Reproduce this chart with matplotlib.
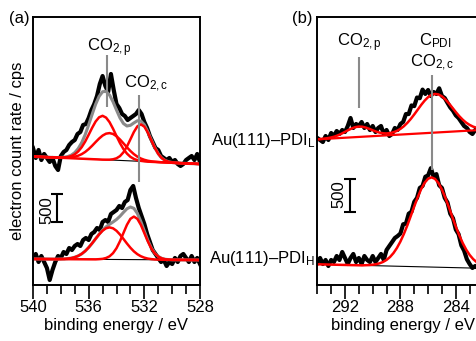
import numpy as np
import matplotlib.pyplot as plt
from matplotlib.ticker import MultipleLocator

plt.rcParams['font.family'] = 'Liberation Sans'
plt.rcParams['font.size'] = 12
plt.rcParams['mathtext.fontset'] = 'custom'
plt.rcParams['mathtext.rm'] = 'Liberation Sans'
plt.rcParams['mathtext.it'] = 'Liberation Sans:italic'

# ---------------- panel (a): O 1s ----------------
# measured spectra, 0.2 eV steps from 540 to 528 eV (cps)
energy_a = np.linspace(540, 528, 61)
o1s_low = [2500, 2318, 2464, 2281, 2391, 2318, 2245, 2318, 2172, 2099,
           2354, 2427, 2464, 2555, 2610, 2646, 2756, 2792, 2920, 2938,
           3048, 3194, 3303, 3449, 3668, 3814, 3632, 3522, 3851, 3559,
           3303, 3230, 3121, 3084, 3011, 3048, 3084, 3121, 3194, 3121,
           2975, 2865, 2719, 2610, 2500, 2464, 2354, 2318, 2281, 2318,
           2245, 2281, 2208, 2172, 2208, 2281, 2318, 2354, 2281, 2391,
           2245]
o1s_high = [493, 566, 420, 529, 420, 310, 91, 274, 420, 529,
            493, 602, 566, 675, 639, 712, 748, 712, 821, 858,
            821, 931, 967, 1040, 1004, 1150, 1186, 1150, 1296, 1332,
            1369, 1442, 1405, 1515, 1551, 1734, 1807, 1588, 1405, 1259,
            1113, 931, 785, 639, 566, 493, 420, 456, 347, 420,
            383, 493, 420, 529, 566, 493, 420, 529, 420, 493,
            383]

# fit components, 0.25 eV steps from 540 to 528 eV (cps above background)
fit_energy_a = np.linspace(540, 528, 49)
bg_low_a = (2345, 2208)
bg_high_a = (475, 456)
p1_low = [0] * 8 + [4, 9, 19, 39, 74, 130, 210, 316, 442, 573, 690, 770, 800,
                    770, 690, 573, 442, 316, 210, 130, 74, 39, 19, 9, 4] + [0] * 16
p2_low = [0] * 8 + [2, 5, 9, 17, 31, 52, 83, 126, 181, 245, 315, 382, 439, 477, 490,
                    477, 439, 382, 315, 245, 181, 126, 83, 52, 31, 17, 9, 5, 2] + [0] * 12
c_low = [0] * 21 + [2, 5, 15, 36, 78, 151, 259, 394, 531, 636, 675,
                    636, 531, 394, 259, 151, 78, 36, 15, 5, 2] + [0] * 7
p_high = [0] * 8 + [3, 5, 11, 20, 37, 62, 99, 150, 216, 293, 376, 456, 524, 569, 585,
                    569, 524, 456, 376, 293, 216, 150, 99, 62, 37, 20, 11, 5, 3] + [0] * 12
c_high = [0] * 19 + [4, 10, 26, 57, 115, 206, 334, 485, 634, 744, 785,
                     744, 634, 485, 334, 206, 115, 57, 26, 10, 4] + [0] * 9
co2p_a = 534.68
co2c_a = 532.35

# ---------------- panel (b): C 1s ----------------
energy_b = np.linspace(294, 282.4, 59)
c1s_low = [2227, 2197, 2166, 2257, 2197, 2303, 2257, 2333, 2288, 2348,
           2318, 2409, 2530, 2379, 2439, 2409, 2469, 2379, 2439, 2348,
           2409, 2318, 2379, 2409, 2288, 2348, 2257, 2288, 2379, 2348,
           2439, 2470, 2590, 2590, 2720, 2710, 2840, 2830, 2960, 2894,
           2954, 2863, 2924, 2894, 2980, 2863, 2833, 2760, 2690, 2640,
           2570, 2530, 2469, 2409, 2379, 2318, 2288, 2348, 2379]
c1s_high = [333, 409, 318, 379, 288, 379, 348, 439, 379, 500,
            409, 318, 409, 470, 348, 409, 318, 439, 379, 348,
            439, 348, 409, 470, 379, 530, 591, 651, 712, 742,
            780, 920, 930, 1080, 1110, 1260, 1320, 1470, 1500, 1640,
            1660, 1770, 1640, 1680, 1510, 1470, 1320, 1250, 1080, 1010,
            840, 770, 600, 520, 390, 318, 258, 288, 258]

fit_energy_b = np.linspace(294, 282.5, 47)
bg_low_b = (2207, 2345)
bg_high_b = (314, 255)
co2p_fit_b = [0] + [2, 4, 9, 16, 27, 43, 64, 89, 114, 136, 152, 157,
                    152, 136, 114, 89, 64, 43, 27, 16, 9, 4, 2] + [0] * 23
cpdi_fit_b = [0] * 17 + [2, 4, 8, 13, 23, 37, 57, 86, 123, 171, 228, 293, 362, 431, 493,
                         543, 575, 586, 575, 543, 493, 431, 362, 293, 228, 171, 123, 86, 57, 37]
cpdi_high_b = [0] * 14 + [4, 8, 14, 23, 38, 60, 92, 137, 198, 277, 375, 491, 622, 766,
                          913, 1053, 1178, 1275, 1337, 1359, 1337, 1275, 1178, 1053,
                          913, 766, 622, 491, 375, 277, 198, 137, 92]
co2p_b = 291.0
co2c_b = 285.74

red = '#ff0000'
grey = '#8a8a8a'

fig = plt.figure(figsize=(4.77, 3.41), dpi=100)
ax_a = fig.add_axes([33 / 477, 1 - 285 / 341, 167 / 477, 268 / 341])
ax_b = fig.add_axes([317.3 / 477, 1 - 285 / 341, 170.7 / 477, 268 / 341])

for ax in (ax_a, ax_b):
    ax.xaxis.set_major_locator(MultipleLocator(4))
    ax.xaxis.set_minor_locator(MultipleLocator(1))
    ax.tick_params(axis='x', which='major', direction='out', length=10, width=1.2, pad=1)
    ax.tick_params(axis='x', which='minor', direction='out', length=6.5, width=1.2)
    ax.set_yticks([])
    for s in ax.spines.values():
        s.set_linewidth(1.4)
    ax.set_xlabel('binding energy / eV', labelpad=2)

ax_a.set_xlim(540, 528)
ax_a.set_ylim(0, 4891)
ax_b.set_xlim(294, 294 - 170.7 / 13.85)
ax_b.set_ylim(0, 4060)

# panel (a)
ax_a.plot(energy_a, o1s_low, color='black', lw=3)
ax_a.plot(energy_a, o1s_high, color='black', lw=3)
bg = np.linspace(bg_low_a[0], bg_low_a[1], len(fit_energy_a))
ax_a.plot(fit_energy_a, bg, color='black', lw=0.8)
ax_a.plot(fit_energy_a, bg + np.array(p1_low) + np.array(p2_low) + np.array(c_low),
          color=grey, lw=2.2)
for comp in (p1_low, p2_low, c_low):
    ax_a.plot(fit_energy_a, bg + np.array(comp), color=red, lw=1.8)
bg = np.linspace(bg_high_a[0], bg_high_a[1], len(fit_energy_a))
ax_a.plot(fit_energy_a, bg, color='black', lw=0.8)
ax_a.plot(fit_energy_a, bg + np.array(p_high) + np.array(c_high), color=grey, lw=2.2)
for comp in (p_high, c_high):
    ax_a.plot(fit_energy_a, bg + np.array(comp), color=red, lw=1.8)

ax_a.vlines(co2p_a, 3249, 4198, color=grey, lw=1.5)
ax_a.vlines(co2c_a, 1880, 3468, color=grey, lw=1.5)
ax_a.text(534.5, 4261, r'CO$_{2,\mathrm{p}}$', ha='center', va='baseline')
ax_a.text(531.9, 3595, r'CO$_{2,\mathrm{c}}$', ha='center', va='baseline')
ax_a.errorbar([538.27], [1405], yerr=[250], fmt='none', ecolor='black',
              elinewidth=1.5, capsize=4, capthick=1.5)
ax_a.text(539.0, 1369, '500', rotation=90, ha='center', va='center')

# panel (b)
ax_b.plot(energy_b, c1s_low, color='black', lw=3)
ax_b.plot(energy_b, c1s_high, color='black', lw=3)
bg = np.linspace(bg_low_b[0], bg_low_b[1], len(fit_energy_b))
ax_b.plot(fit_energy_b, bg, color=red, lw=1.6)
ax_b.plot(fit_energy_b, bg + np.array(co2p_fit_b) + np.array(cpdi_fit_b), color=red, lw=1.8)
bg = np.linspace(bg_high_b[0], bg_high_b[1], len(fit_energy_b))
ax_b.plot(fit_energy_b, bg, color='black', lw=0.8)
ax_b.plot(fit_energy_b, bg + np.array(cpdi_high_b), color=red, lw=1.8)

ax_b.vlines(co2p_b, 2682, 3454, color=grey, lw=1.5)
ax_b.vlines(co2c_b, 1742, 3182, color=grey, lw=1.5)
ax_b.text(291.0, 3613, r'CO$_{2,\mathrm{p}}$', ha='center', va='baseline')
ax_b.text(285.5, 3636, r'C$_\mathrm{PDI}$', ha='center', va='baseline')
ax_b.text(285.68, 3310, r'CO$_{2,\mathrm{c}}$', ha='center', va='baseline')
ax_b.errorbar([291.64], [1356], yerr=[250], fmt='none', ecolor='black',
              elinewidth=1.5, capsize=4, capthick=1.5)
ax_b.text(292.45, 1379, '500', rotation=90, ha='center', va='center')

ax_b.text(294.15, 2121, r'Au(111)–PDI$_\mathrm{L}$', ha='right', va='baseline',
          clip_on=False, zorder=5)
ax_b.text(294.15, 333, r'Au(111)–PDI$_\mathrm{H}$', ha='right', va='baseline',
          clip_on=False, zorder=5)

fig.text(18 / 477, 1 - 151 / 341, 'electron count rate / cps', rotation=90,
         ha='center', va='center')
fig.text(19 / 477, 1 - 19 / 341, '(a)', ha='center', va='center')
fig.text(302.5 / 477, 1 - 19 / 341, '(b)', ha='center', va='center')

fig.savefig('out.png', dpi=100)
